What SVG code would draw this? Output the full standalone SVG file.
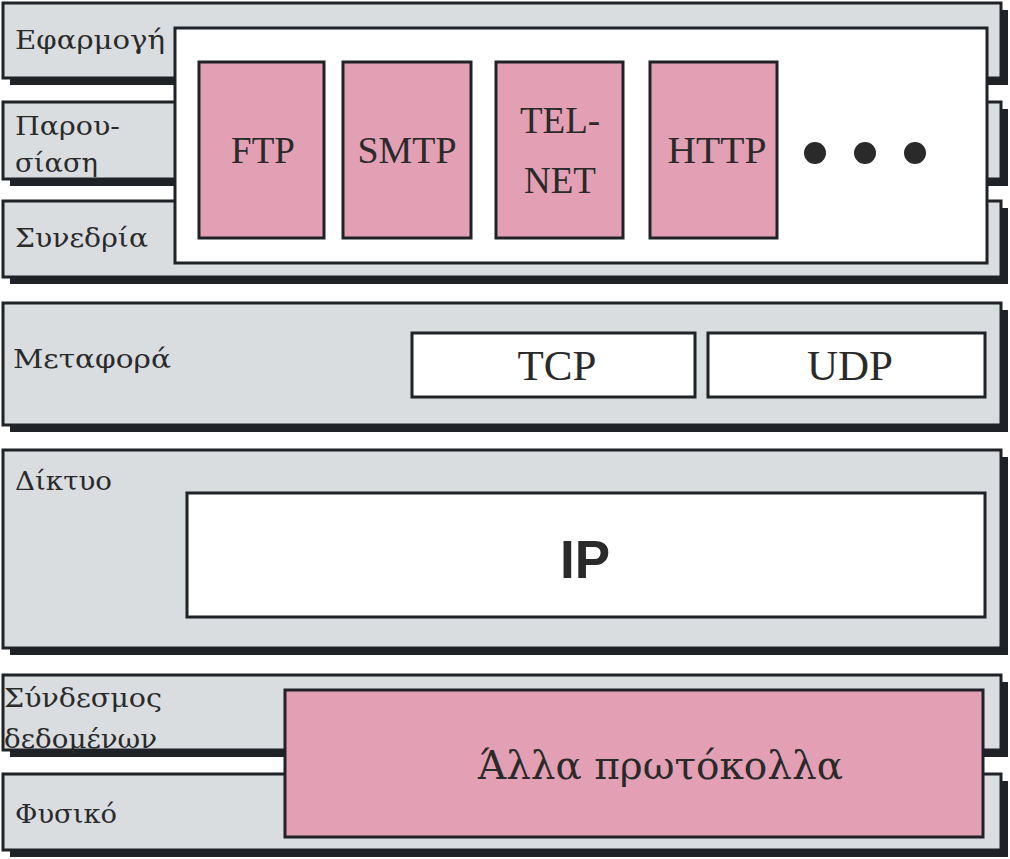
<svg xmlns="http://www.w3.org/2000/svg" width="1010" height="859" viewBox="0 0 1010 859">
<style>
.shadow{fill:#1f2226}
.layer{fill:#d9dde0;stroke:#1f2226;stroke-width:3}
.white{fill:#ffffff;stroke:#1f2226;stroke-width:3}
.pink{fill:#e3a0b5;stroke:#1f2226;stroke-width:3}
.lbl{font-family:"DejaVu Serif","Liberation Serif",serif;font-size:26px;fill:#2a2a2a}
.proto{font-family:"Liberation Serif","DejaVu Serif",serif;font-size:37px;fill:#2a2a2a;text-anchor:middle}
.big{font-family:"Liberation Serif","DejaVu Serif",serif;font-size:43px;fill:#2a2a2a;text-anchor:middle}
.other{font-family:"DejaVu Serif","Liberation Serif",serif;font-size:39px;fill:#2a2a2a}
.ip{font-family:"Liberation Sans","Arial",sans-serif;font-weight:bold;font-size:53px;fill:#2a2a2a;text-anchor:middle}
.dot{fill:#2a2a2a}
</style>
<rect width="1010" height="859" fill="#ffffff"/>
<g id="layer-application">
<rect class="shadow" x="10" y="10" width="998" height="75"/>
<rect class="layer" x="3" y="3" width="998" height="75"/>
<text class="lbl" x="15" y="49" textLength="150" lengthAdjust="spacingAndGlyphs">Εφαρμογή</text>
</g>
<g id="layer-presentation">
<rect class="shadow" x="10" y="109" width="998" height="77"/>
<rect class="layer" x="3" y="102" width="998" height="77"/>
<text class="lbl" x="15" y="135" textLength="105" lengthAdjust="spacingAndGlyphs">Παρου-</text>
<text class="lbl" x="15" y="172" textLength="83" lengthAdjust="spacingAndGlyphs">σίαση</text>
</g>
<g id="layer-session">
<rect class="shadow" x="10" y="208" width="998" height="76"/>
<rect class="layer" x="3" y="201" width="998" height="76"/>
<text class="lbl" x="15" y="247" textLength="133" lengthAdjust="spacingAndGlyphs">Συνεδρία</text>
</g>
<g id="app-box">
<rect class="white" x="175" y="28" width="812" height="235"/>
</g>
<g id="ftp">
<rect class="pink" x="199" y="62" width="125" height="176"/>
<text class="proto" x="263" y="163">FTP</text>
</g>
<g id="smtp">
<rect class="pink" x="343" y="62" width="128" height="176"/>
<text class="proto" x="407" y="163" textLength="99" lengthAdjust="spacingAndGlyphs">SMTP</text>
</g>
<g id="telnet">
<rect class="pink" x="496" y="62" width="127" height="176"/>
<text class="proto" x="560" y="133">TEL-</text>
<text class="proto" x="560" y="193">NET</text>
</g>
<g id="http">
<rect class="pink" x="650" y="62" width="127" height="176"/>
<text class="proto" x="717" y="163" textLength="99" lengthAdjust="spacingAndGlyphs">HTTP</text>
</g>
<g id="more">
<circle class="dot" cx="815" cy="153" r="11"/>
<circle class="dot" cx="865" cy="153" r="11"/>
<circle class="dot" cx="915" cy="153" r="11"/>
</g>
<g id="layer-transport">
<rect class="shadow" x="10" y="310" width="998" height="122"/>
<rect class="layer" x="3" y="303" width="998" height="122"/>
<text class="lbl" x="13" y="368" textLength="158" lengthAdjust="spacingAndGlyphs">Μεταφορά</text>
</g>
<g id="tcp">
<rect class="white" x="412" y="333" width="283" height="64"/>
<text class="big" x="557" y="380">TCP</text>
</g>
<g id="udp">
<rect class="white" x="708" y="333" width="277" height="64"/>
<text class="big" x="850" y="380">UDP</text>
</g>
<g id="layer-network">
<rect class="shadow" x="10" y="457" width="998" height="198"/>
<rect class="layer" x="3" y="450" width="998" height="198"/>
<text class="lbl" x="15" y="490" textLength="97" lengthAdjust="spacingAndGlyphs">Δίκτυο</text>
</g>
<g id="ip">
<rect class="white" x="187" y="493" width="798" height="124"/>
<text class="ip" x="585" y="578">IP</text>
</g>
<g id="layer-datalink">
<rect class="shadow" x="10" y="682" width="998" height="75"/>
<rect class="layer" x="3" y="675" width="998" height="75"/>
<text class="lbl" x="4" y="707" textLength="158" lengthAdjust="spacingAndGlyphs">Σύνδεσμος</text>
<text class="lbl" x="4" y="748" textLength="153" lengthAdjust="spacingAndGlyphs">δεδομένων</text>
</g>
<g id="layer-physical">
<rect class="shadow" x="10" y="781" width="998" height="76"/>
<rect class="layer" x="3" y="774" width="998" height="76"/>
<text class="lbl" x="15" y="823" textLength="102" lengthAdjust="spacingAndGlyphs">Φυσικό</text>
</g>
<g id="other">
<rect class="pink" x="285" y="690" width="698" height="147"/>
<text class="other" x="478" y="779" textLength="365" lengthAdjust="spacingAndGlyphs">Άλλα πρωτόκολλα</text>
</g>
<g id="connectors"></g>
</svg>
